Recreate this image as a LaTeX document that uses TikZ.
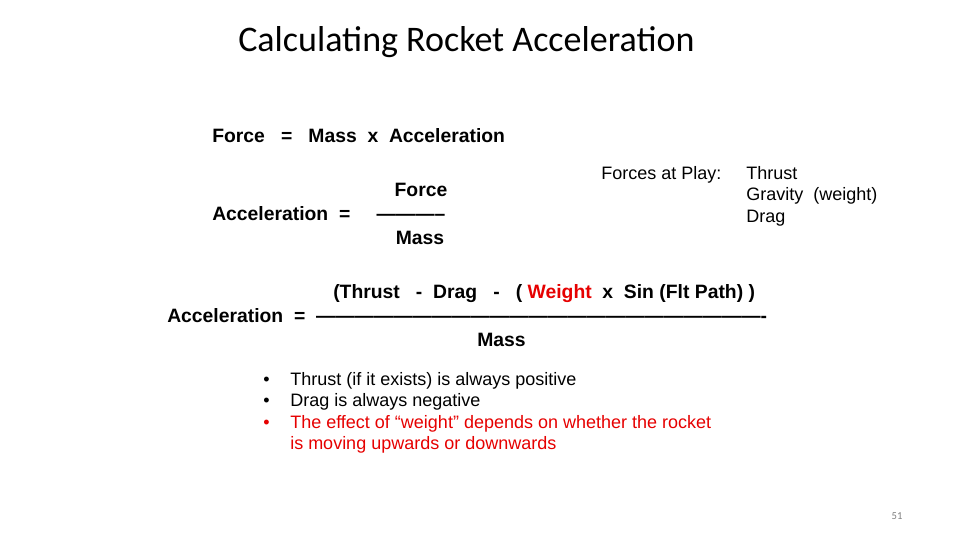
\documentclass[tikz,border=0pt]{standalone}
\usepackage{fontspec}
\setmainfont{Liberation Sans}[Ligatures=ResetAll]
\newfontfamily\titlefont{Carlito}
\definecolor{myred}{RGB}{230,0,0}
\begin{document}
\begin{tikzpicture}[x=0.75pt,y=-0.75pt,
  t/.style={anchor=base west,inner sep=0pt,font=\fontsize{14.5}{17}\selectfont\bfseries},
  n/.style={anchor=base west,inner sep=0pt,font=\fontsize{13.5}{16}\selectfont},
  c/.style={anchor=base,inner sep=0pt,font=\fontsize{14.5}{17}\selectfont\bfseries}]
\useasboundingbox (0,0) rectangle (960,540);
\node[anchor=base west,inner sep=0pt,font=\fontsize{27}{32}\selectfont\titlefont] (title) at (238,51) {Calculating Rocket Acceleration};
\node[t] (fma) at (212,142) {Force\ \ \ =\ \ \ Mass\ \ x\ \ Acceleration};
\node[t] (acc1) at (212,220) {Acceleration\ \ =};
\node[c] (f1) at (421,196) {Force};
\node[c] (d1) at (411,220) {-----------};
\node[c] (m1) at (420,244) {Mass};
\node[n] (fap) at (601,179) {Forces at Play:};
\node[n] (thr) at (746,179) {Thrust};
\node[n] (grav) at (746,200) {Gravity\ \ (weight)};
\node[n] (drag) at (746,222) {Drag};
\node[t] (num) at (333,298) {(Thrust\ \ \ -\ \ Drag\ \ \ -\ \ \ (\ \textcolor{myred}{Weight}\ \ x\ \ Sin (Flt Path)\ )};
\node[t] (acc2) at (167,322) {Acceleration\ \ =\ \ ----------------------------------------------------------------------};
\node[t] (m2) at (477,346) {Mass};
\node[n] (b1) at (263,385) {\textbullet};
\node[n] (b2) at (263,406) {\textbullet};
\node[n] (b3) at (263,428) {\textcolor{myred}{\textbullet}};
\node[n] (l1) at (290,385) {Thrust (if it exists) is always positive};
\node[n] (l2) at (290,406) {Drag is always negative};
\node[n,text=myred] (l3) at (290,428) {The effect of “weight” depends on whether the rocket};
\node[n,text=myred] (l4) at (290,449) {is moving upwards or downwards};
\node[anchor=base,inner sep=0pt,font=\fontsize{8}{10}\selectfont\titlefont,text=gray] (pg) at (897,519) {51};
\end{tikzpicture}
\end{document}
